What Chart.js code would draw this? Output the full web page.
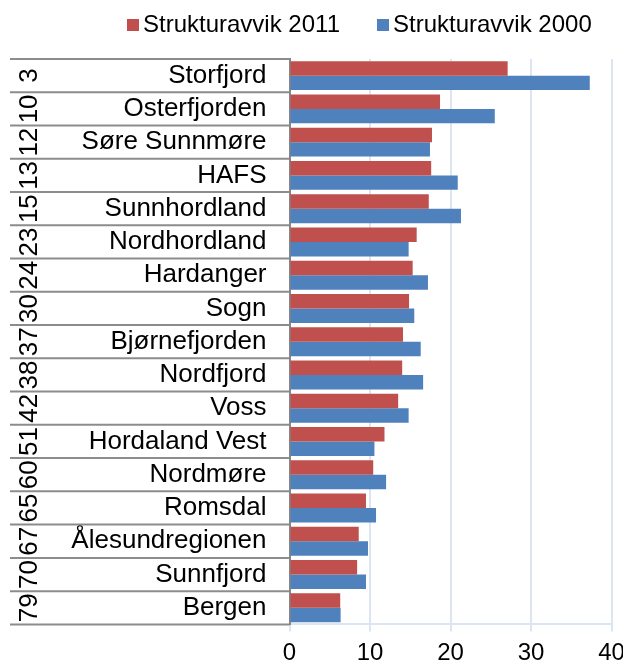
<!DOCTYPE html>
<html>
<head>
<meta charset="utf-8">
<script src="https://cdn.jsdelivr.net/npm/chart.js@4"></script>
<style>
  body { margin: 0; background: #fff; }
  #wrap { width: 623px; height: 663px; }
</style>
</head>
<body>
<div id="wrap"><canvas id="barChart"></canvas></div>
<script>
// rank and region shown on the left axis
const ranks = ['3', '10', '12', '13', '15', '23', '24', '30', '37', '38', '42', '51', '60', '65', '67', '70', '79'];
const regions = ['Storfjord', 'Osterfjorden', 'Søre Sunnmøre', 'HAFS', 'Sunnhordland', 'Nordhordland', 'Hardanger',
    'Sogn', 'Bjørnefjorden', 'Nordfjord', 'Voss', 'Hordaland Vest', 'Nordmøre', 'Romsdal', 'Ålesundregionen',
    'Sunnfjord', 'Bergen'];

// series values
const avvik2011 = [27.1, 18.7, 17.7, 17.6, 17.3, 15.8, 15.3, 14.85, 14.1, 14.0, 13.5, 11.8, 10.4, 9.5, 8.6, 8.4, 6.3];
const avvik2000 = [37.3, 25.5, 17.45, 20.9, 21.3, 14.8, 17.2, 15.5, 16.3, 16.6, 14.8, 10.55, 12.0, 10.75, 9.75, 9.5, 6.35];

const xTicks = [0, 10, 20, 30, 40];

const FONT = '"Liberation Sans", Arial, sans-serif';

// draws the rank column, row separators and the legend
const leftLabels = {
    id: 'leftLabels',
    afterDraw(chart) {
        const ctx = chart.ctx;
        const y = chart.scales.y;
        const area = chart.chartArea;
        const step = (area.bottom - area.top) / ranks.length;

        ctx.save();
        ctx.strokeStyle = '#8c8c8c';
        ctx.lineWidth = 2;
        for (let i = 0; i <= ranks.length; i++) {
            const py = area.top + i * step;
            ctx.beginPath();
            ctx.moveTo(10, py);
            ctx.lineTo(area.left, py);
            ctx.stroke();
        }

        ctx.fillStyle = '#000';
        ctx.font = '26px ' + FONT;
        ctx.textAlign = 'center';
        ctx.textBaseline = 'alphabetic';
        ranks.forEach((r, i) => {
            const py = y.getPixelForValue(i);
            ctx.save();
            ctx.translate(37, py);
            ctx.rotate(-Math.PI / 2);
            ctx.fillText(r, 0, 0);
            ctx.restore();
        });

        // legend
        ctx.font = '24px ' + FONT;
        ctx.textAlign = 'left';
        ctx.textBaseline = 'middle';
        let lx = 127;
        chart.data.datasets.forEach(ds => {
            ctx.fillStyle = ds.backgroundColor;
            ctx.fillRect(lx, 19, 12, 12);
            ctx.fillStyle = '#000';
            ctx.fillText(ds.label, lx + 16, 25);
            lx += 16 + ctx.measureText(ds.label).width + 37;
        });
        ctx.restore();
    }
};

function createBarChart() {
    const ctx = document.getElementById('barChart').getContext('2d');

    new Chart(ctx, {
        type: 'bar',
        data: {
            labels: regions,
            datasets: [
                {
                    label: 'Strukturavvik 2011',
                    data: avvik2011,
                    backgroundColor: '#C0504D',
                    categoryPercentage: 0.87,
                    barPercentage: 1
                },
                {
                    label: 'Strukturavvik 2000',
                    data: avvik2000,
                    backgroundColor: '#4F81BD',
                    categoryPercentage: 0.87,
                    barPercentage: 1
                }
            ]
        },
        options: {
            indexAxis: 'y',
            responsive: true,
            maintainAspectRatio: false,
            animation: false,
            layout: {
                padding: { top: 59, right: 11.5, left: 0, bottom: 0 }
            },
            plugins: {
                legend: { display: false },
                tooltip: { enabled: false }
            },
            scales: {
                x: {
                    min: 0,
                    max: 40,
                    afterBuildTicks: scale => {
                        scale.ticks = xTicks.map(v => ({ value: v }));
                    },
                    afterFit: scale => {
                        scale.height = 36;
                        scale.paddingRight = 0;
                        scale.paddingLeft = 0;
                    },
                    grid: {
                        color: '#dce6f2',
                        lineWidth: 2,
                        tickLength: 7
                    },
                    border: { color: '#dce6f2', width: 2 },
                    ticks: {
                        color: '#000',
                        padding: 8,
                        font: { family: FONT, size: 24 }
                    }
                },
                y: {
                    afterFit: scale => {
                        scale.width = 289.5;
                    },
                    grid: {
                        drawOnChartArea: false,
                        drawTicks: false
                    },
                    border: { color: '#868686', width: 2 },
                    ticks: {
                        color: '#000',
                        padding: 23,
                        font: { family: FONT, size: 26 }
                    }
                }
            }
        },
        plugins: [leftLabels]
    });
}

createBarChart();
</script>
</body>
</html>
